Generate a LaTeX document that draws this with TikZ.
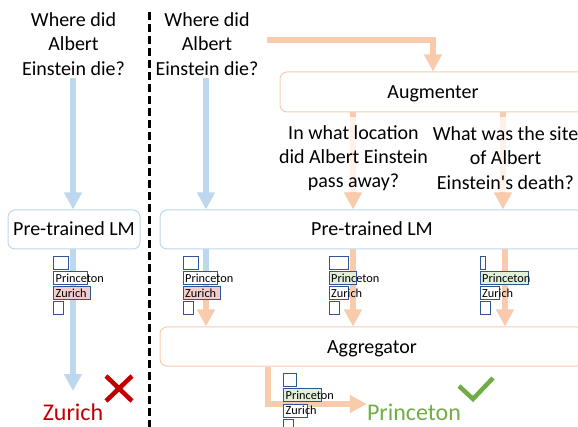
\documentclass[tikz,border=0pt]{standalone}
\usepackage{fontspec}
\setmainfont{Carlito}
\newfontfamily\plainq{Carlito}
\usetikzlibrary{arrows.meta}
\definecolor{bluearrow}{HTML}{BDD7EE}
\definecolor{orangearrow}{HTML}{F8CBAD}
\definecolor{boxblue}{HTML}{2F5597}
\definecolor{pinkfill}{HTML}{F4CCCC}
\definecolor{greenfill}{HTML}{E2EFD9}
\definecolor{wrongred}{HTML}{C00000}
\definecolor{rightgreen}{HTML}{70AD47}
\tikzset{
  x=1pt,y=-1pt,
  bluearr/.style={draw=bluearrow,line width=6pt,-{Triangle[width=17pt,length=17pt]}},
  bluebar/.style={draw=bluearrow,line width=6pt},
  orangearr/.style={draw=orangearrow,line width=6pt,-{Triangle[width=17pt,length=17pt]}},
  lmbox/.style={draw=bluearrow,line width=1pt,fill=white,rounded corners=7pt,inner sep=0pt,font=\fontsize{20}{24}\selectfont,text=black,minimum height=39pt,text height=16pt,text depth=3pt},
  agbox/.style={lmbox,draw=orangearrow},
  qtext/.style={align=center,font=\fontsize{20}{24.2}\selectfont,text=black,inner sep=0pt},
  veil/.style={fill=white,fill opacity=0.74},
  candbox/.style={draw=boxblue,line width=0.9pt,inner sep=0pt,anchor=north west,minimum height=13pt},
  candtext/.style={font=\fontsize{12.3}{14}\selectfont,text=black,inner sep=0pt,anchor=west},
  answer/.style={font=\fontsize{24}{28}\selectfont,inner sep=0pt},
}
\newcommand{\cand}[6]{% name x y w fill text
  \node[candbox,fill=#5,minimum width=#4pt] (#1) at (#2,#3) {};
  \node[candtext] (#1t) at ([xshift=2.5pt]#1.west) {#6};
}
\begin{document}
\begin{tikzpicture}
\useasboundingbox (0,0) rectangle (578,427);
\clip (0,0) rectangle (578,427);
% left column
\node[qtext] (q1) at (73.5,44) {Where did\\Albert\\Einstein die?};
\node[lmbox,minimum width=132pt] (lm1) at (74,229.5) {Pre-trained LM};
\node[answer,text=wrongred] (z1) at (73,412) {Zurich};
\coordinate (q1s) at (73,78);
\coordinate (a1s) at (73,391);
\draw[bluearr] (q1s) -- (lm1.north -| q1s);
\draw[bluearr] (lm1.south -| q1s) -- (a1s);
% divider
\coordinate (d1) at (149.5,12);
\coordinate (d2) at (149.5,427);
\draw[black,line width=3pt,dash pattern=on 8pt off 4pt] (d1) -- (d2);
% right column
\node[qtext] (q2) at (207,44) {Where did\\Albert\\Einstein die?};
\node[lmbox,minimum width=424pt] (lm2) at (372,229.5) {Pre-trained LM};
\node[agbox,minimum width=424pt] (ag) at (372,346.5) {Aggregator};
\node[agbox,minimum width=306pt,minimum height=40pt] (au) at (433,92) {Augmenter};
\coordinate (q2s) at (206,78);
\coordinate (qr) at (267,40);
\coordinate (b1) at (206,300);
\coordinate (c1) at (353,0);
\coordinate (c2) at (503,0);
\coordinate (c3) at (505,0);
\draw[bluearr] (q2s) -- (lm2.north -| q2s);
\draw[bluebar] (lm2.south -| q2s) -- (b1);
\draw[orangearr] (b1) -- (ag.north -| b1);
\draw[orangearr] (qr) -| (au.north);
\draw[orangearr] (au.south -| c1) -- (lm2.north -| c1);
\draw[orangearr] (au.south -| c2) -- (lm2.north -| c2);
\draw[orangearr] (lm2.south -| c1) -- (ag.north -| c1);
\draw[orangearr] (lm2.south -| c3) -- (ag.north -| c3);
\coordinate (oc) at (268,404);
\node[answer,text=rightgreen] (pr) at (414,412) {Princeton};
\draw[orangearr] (ag.south -| oc) -- (oc) -- (pr.west |- oc);
% augmented questions
\fill[veil] (281,117) rectangle (427,192);
\fill[veil] (432,117) rectangle (578,192);
\node[qtext] (q3) at (353.5,158) {In what location\\did Albert Einstein\\pass away?};
\node[qtext] (q4) at (505.5,158) {What was the site\\of Albert\\Einstein{\plainq '}s death?};
% candidates
\cand{a1}{53}{256}{15}{white}{}
\cand{a2}{53}{271}{34}{white}{Princeton}
\cand{a3}{53}{286.5}{37}{pinkfill}{Zurich}
\cand{a4}{53}{301.5}{10}{white}{}
\cand{b1a}{182.5}{256}{15}{white}{}
\cand{b2a}{182.5}{271}{34}{white}{Princeton}
\cand{b3a}{182.5}{286.5}{37}{pinkfill}{Zurich}
\cand{b4a}{182.5}{301.5}{10}{white}{}
\cand{c1a}{328.5}{256}{19}{white}{}
\cand{c2a}{328.5}{271}{27}{greenfill}{Princeton}
\cand{c3a}{328.5}{286.5}{19}{white}{Zurich}
\cand{c4a}{328.5}{301.5}{10}{white}{}
\cand{d1a}{479.5}{256}{5}{white}{}
\cand{d2a}{479.5}{271}{48}{greenfill}{Princeton}
\cand{d3a}{479.5}{286.5}{19}{white}{Zurich}
\cand{d4a}{479.5}{301.5}{10}{white}{}
\cand{e1a}{283}{373}{13}{white}{}
\cand{e2a}{283}{388}{38}{greenfill}{Princeton}
\cand{e3a}{283}{403.5}{24}{white}{Zurich}
\cand{e4a}{283}{418.5}{10}{white}{}
% marks
\draw[wrongred,line width=4.5pt] (106,376) -- (132,401) (132,376) -- (106,401);
\draw[rightgreen,line width=4.5pt] (459,386) -- (473,399) -- (493,378);
\end{tikzpicture}
\end{document}
